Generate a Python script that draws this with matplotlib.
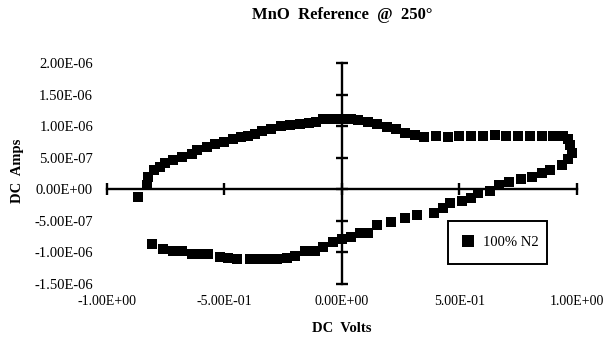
import matplotlib
matplotlib.use("Agg")
import matplotlib.pyplot as plt
import numpy as np

plt.rcParams["font.family"] = ["Liberation Serif", "DejaVu Serif"]

title = "MnO  Reference  @  250°"
x_label = "DC  Volts"
y_label = "DC  Amps"
series_label = "100% N2"

x_ticks = [-1.0, -0.5, 0.0, 0.5, 1.0]
y_ticks = [-1.5e-6, -1.0e-6, -5.0e-7, 0.0, 5.0e-7, 1.0e-6, 1.5e-6, 2.0e-6]

# Sweep: forward branch (upper), turn-around near +1 V, return branch (lower)
volts = [
    -0.866, -0.830, -0.826, -0.800, -0.775, -0.753, -0.720, -0.680, -0.640,
    -0.615, -0.575, -0.540, -0.500, -0.465, -0.430, -0.400, -0.370, -0.340,
    -0.300, -0.260, -0.220, -0.180, -0.140, -0.110, -0.080, -0.040, 0.000,
    0.040, 0.070, 0.110, 0.150, 0.190, 0.230, 0.270, 0.310, 0.350, 0.400,
    0.450, 0.500, 0.550, 0.600, 0.650, 0.700, 0.750, 0.800, 0.850, 0.900,
    0.940, 0.960, 0.970, 0.980, 0.960, 0.935,
    0.885, 0.850, 0.810, 0.760, 0.710, 0.670, 0.630, 0.580, 0.550, 0.510,
    0.460, 0.430, 0.390, 0.320, 0.270, 0.210, 0.150, 0.110, 0.075, 0.040,
    0.000, -0.040, -0.080, -0.115, -0.157, -0.200, -0.234, -0.277, -0.315,
    -0.349, -0.391, -0.447, -0.485, -0.519, -0.570, -0.604, -0.638, -0.681,
    -0.719, -0.762, -0.809,
]
amps_uA = [
    -0.13, 0.06, 0.20, 0.30, 0.36, 0.41, 0.46, 0.51, 0.56,
    0.62, 0.67, 0.72, 0.75, 0.80, 0.83, 0.84, 0.87, 0.92,
    0.96, 1.00, 1.02, 1.03, 1.05, 1.06, 1.11, 1.12, 1.12,
    1.12, 1.10, 1.07, 1.04, 0.99, 0.95, 0.89, 0.86, 0.83, 0.84,
    0.82, 0.85, 0.85, 0.84, 0.86, 0.85, 0.85, 0.85, 0.85, 0.85,
    0.85, 0.80, 0.70, 0.58, 0.48, 0.38,
    0.30, 0.25, 0.19, 0.17, 0.11, 0.06, -0.02, -0.06, -0.14, -0.18,
    -0.22, -0.30, -0.37, -0.41, -0.46, -0.52, -0.57, -0.69, -0.70, -0.76,
    -0.78, -0.84, -0.92, -0.97, -0.98, -1.05, -1.09, -1.10, -1.10,
    -1.10, -1.10, -1.10, -1.09, -1.08, -1.03, -1.02, -1.03, -0.97,
    -0.97, -0.95, -0.86,
]
amps = np.array(amps_uA) * 1e-6

fig = plt.figure(figsize=(6.03, 3.47), dpi=100)
ax = fig.add_axes([0.1774, 0.1816, 0.7794, 0.6369])
ax.set_xlim(x_ticks[0], x_ticks[-1])
ax.set_ylim(y_ticks[0], y_ticks[-1])

# Axes cross at the origin
for side in ("top", "right"):
    ax.spines[side].set_visible(False)
ax.spines["left"].set_position(("data", 0))
ax.spines["bottom"].set_position(("data", 0))
for side in ("left", "bottom"):
    ax.spines[side].set_linewidth(1.7)
    ax.spines[side].set_color("black")
ax.set_xticks(x_ticks)
ax.set_yticks(y_ticks)
ax.tick_params(direction="inout", length=8, width=1.7, color="black",
               labelleft=False, labelbottom=False)

# Tick labels sit at the outer edges of the plot area
fmt = lambda v: f"{v:.2E}"
sec_y = ax.secondary_yaxis(0.0)
sec_y.set_yticks(y_ticks)
sec_y.set_yticklabels([fmt(v) for v in y_ticks])
sec_y.tick_params(length=0, pad=10, labelsize=10.5)
for s in sec_y.spines.values():
    s.set_visible(False)

sec_x = ax.secondary_xaxis(0.0)
sec_x.set_xticks(x_ticks)
sec_x.set_xticklabels([fmt(v) for v in x_ticks])
sec_x.tick_params(length=0, pad=8, labelsize=10)
for s in sec_x.spines.values():
    s.set_visible(False)

ax.plot(volts, amps, "s", color="black", markersize=7, markeredgewidth=0,
        label=series_label, zorder=3)

leg = ax.legend(loc="center", bbox_to_anchor=(0.7255, 0.077, 0.21, 0.222),
                mode="expand", borderaxespad=0, fancybox=False, framealpha=1,
                edgecolor="black", fontsize=10.5, handlelength=0.8,
                handletextpad=0.6, borderpad=1.0, markerscale=1.15)
leg.get_frame().set_linewidth(1.4)

fig.text(342 / 603, 1 - 15 / 347, title, ha="center", va="center",
         fontsize=12, fontweight="bold")
fig.text(342 / 603, 1 - 328 / 347, x_label, ha="center", va="center",
         fontsize=10.5, fontweight="bold")
fig.text(17 / 603, 1 - 171 / 347, y_label, ha="center", va="center",
         rotation=90, fontsize=10.5, fontweight="bold")

fig.savefig("out.png", dpi=100)
